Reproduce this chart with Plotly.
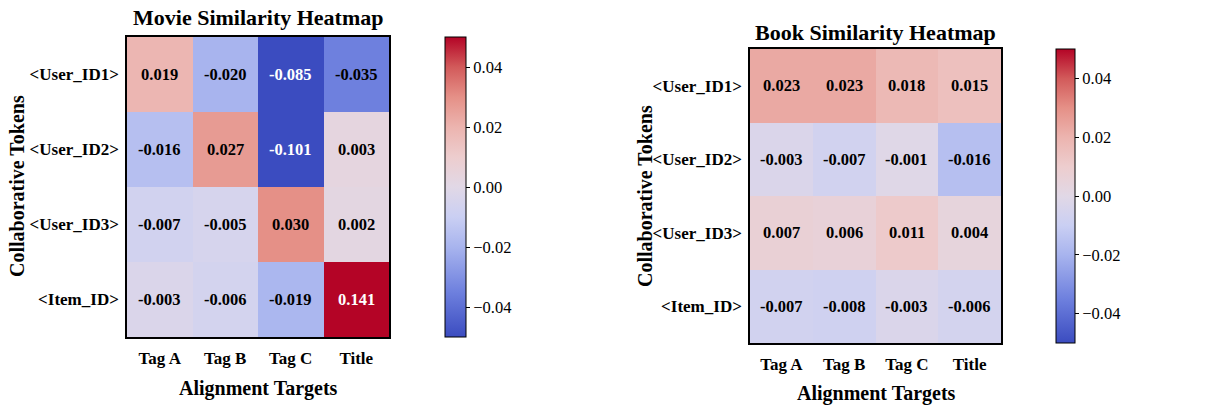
import plotly.graph_objects as go

targets = ["Tag A", "Tag B", "Tag C", "Title"]
tokens = ["&lt;User_ID1&gt;", "&lt;User_ID2&gt;", "&lt;User_ID3&gt;", "&lt;Item_ID&gt;"]

movie_vals = [
    [0.019, -0.020, -0.085, -0.035],
    [-0.016, 0.027, -0.101, 0.003],
    [-0.007, -0.005, 0.030, 0.002],
    [-0.003, -0.006, -0.019, 0.141],
]
book_vals = [
    [0.023, 0.023, 0.018, 0.015],
    [-0.003, -0.007, -0.001, -0.016],
    [0.007, 0.006, 0.011, 0.004],
    [-0.007, -0.008, -0.003, -0.006],
]
cb_ticks = [-0.04, -0.02, 0.0, 0.02, 0.04]

# coolwarm-like diverging scale, tuned to the rendered reference tones
colorscale = [
    [0.00, "rgb(59,76,192)"],
    [0.15, "rgb(110,128,222)"],
    [0.30, "rgb(168,180,238)"],
    [0.40, "rgb(202,207,243)"],
    [0.50, "rgb(225,216,230)"],
    [0.60, "rgb(237,205,206)"],
    [0.70, "rgb(236,180,175)"],
    [0.80, "rgb(229,144,135)"],
    [0.90, "rgb(210,90,90)"],
    [1.00, "rgb(180,4,38)"],
]

FONT = "Liberation Serif, Times New Roman, serif"
W, H = 1213, 405

def px_x(p):
    return p / W

def px_y(p):
    return 1 - p / H

fig = go.Figure()
fig.add_trace(go.Heatmap(z=movie_vals, x=targets, y=tokens, coloraxis="coloraxis",
                         xaxis="x", yaxis="y", hoverinfo="skip"))
fig.add_trace(go.Heatmap(z=book_vals, x=targets, y=tokens, coloraxis="coloraxis2",
                         xaxis="x2", yaxis="y2", hoverinfo="skip"))

annotations = []
for vals, xr, yr in [(movie_vals, "x", "y"), (book_vals, "x2", "y2")]:
    for i, row in enumerate(vals):
        for j, v in enumerate(row):
            norm = (v + 0.05) / 0.1
            color = "white" if (norm < 0.12 or norm > 0.88) else "black"
            annotations.append(dict(
                x=targets[j], y=tokens[i], xref=xr, yref=yr,
                text="<b>%s</b>" % f"{v:.3f}",
                showarrow=False, font=dict(family=FONT, size=16.5, color=color),
            ))

def txt(text, x, y, size, angle=0):
    return dict(text="<b>%s</b>" % text, x=px_x(x), y=px_y(y), xref="paper", yref="paper",
                showarrow=False, textangle=angle, xanchor="center", yanchor="middle",
                font=dict(family=FONT, size=size, color="black"))

annotations += [
    txt("Movie Similarity Heatmap", 258, 18, 22),
    txt("Alignment Targets", 258, 388, 20),
    txt("Collaborative Tokens", 17, 186, 20, -90),
    txt("Book Similarity Heatmap", 875, 32, 22),
    txt("Alignment Targets", 876, 393, 20),
    txt("Collaborative Tokens", 645, 196, 20, -90),
]

axis_common = dict(showline=True, mirror=True, linecolor="black", linewidth=1.5,
                   ticks="", showgrid=False, zeroline=False,
                   tickfont=dict(family=FONT, size=17, color="black"))

def xaxis(domain, anchor):
    d = dict(axis_common)
    d.update(domain=domain, anchor=anchor, ticklabelstandoff=5,
             tickvals=targets, ticktext=["<b>%s</b>" % t for t in targets])
    return d

def yaxis(domain, anchor):
    d = dict(axis_common)
    d.update(domain=domain, anchor=anchor, autorange="reversed", ticklabelstandoff=3,
             tickvals=tokens, ticktext=["<b>%s</b>" % t for t in tokens])
    return d

def cbar(x, y, length, thick):
    return dict(x=x, xanchor="left", y=y, yanchor="middle", len=length, lenmode="fraction",
                thickness=thick, thicknessmode="pixels", outlinewidth=1, outlinecolor="black",
                tickvals=cb_ticks, tickformat=".2f", ticks="outside", ticklen=4,
                tickcolor="black", tickfont=dict(family=FONT, size=16.5, color="black"),
                xpad=0, ypad=0)

fig.update_layout(
    width=W, height=H, margin=dict(l=0, r=0, t=0, b=0),
    paper_bgcolor="white", plot_bgcolor="white",
    xaxis=xaxis([px_x(127), px_x(389)], "y"),
    yaxis=yaxis([px_y(337), px_y(37)], "x"),
    xaxis2=xaxis([px_x(750), px_x(1001)], "y2"),
    yaxis2=yaxis([px_y(343), px_y(49)], "x2"),
    coloraxis=dict(colorscale=colorscale, cmin=-0.05, cmax=0.05,
                   colorbar=cbar(px_x(445), px_y(187), 300 / H, 21)),
    coloraxis2=dict(colorscale=colorscale, cmin=-0.05, cmax=0.05,
                    colorbar=cbar(px_x(1056), px_y(196), 294 / H, 19)),
    annotations=annotations,
    font=dict(family=FONT, color="black"),
)

fig.write_html("out.html", config={"displayModeBar": False},
               post_script="document.body.style.margin='0';document.body.style.overflow='hidden';")
